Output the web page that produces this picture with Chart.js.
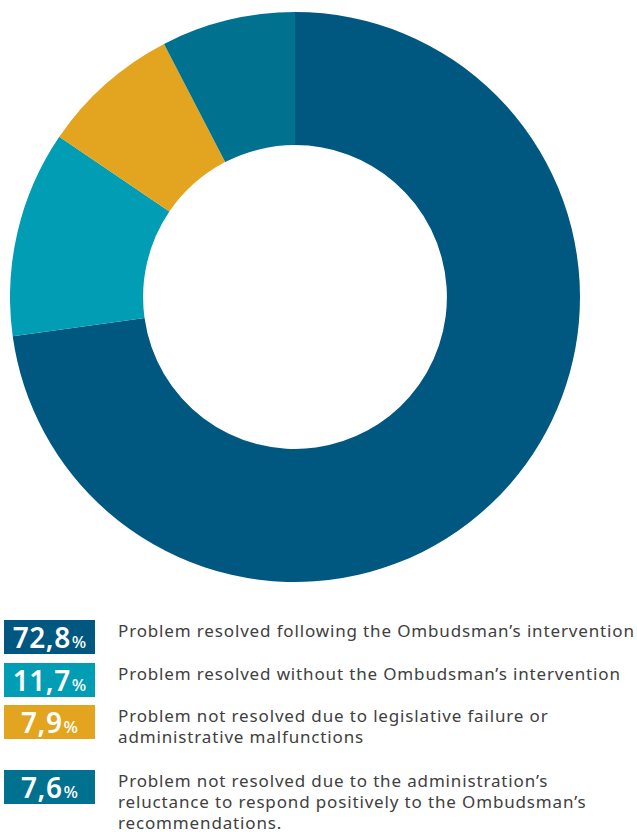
<!DOCTYPE html>
<html>
<head>
<meta charset="utf-8">
<script src="https://cdn.jsdelivr.net/npm/chart.js@4.4.1/dist/chart.umd.min.js"></script>
<style>
  html, body { margin: 0; padding: 0; background: #ffffff; }
  body { width: 637px; height: 832px; position: relative; overflow: hidden; font-family: "Noto Sans", sans-serif; }
  #chartBox { position: absolute; left: 10px; top: 12px; width: 570px; height: 570px; }
  .row { position: absolute; left: 4px; }
  .badge { position: absolute; left: 0; top: 0; width: 91px; height: 34px; color: #fff; overflow: hidden;
           text-align: center; line-height: 34px; white-space: nowrap;
           font-family: "Noto Sans", sans-serif; font-weight: 600; }
  .badge .num { font-size: 28px; letter-spacing: 0.5px; }
  .badge .pct { font-size: 17px; line-height: 1; font-weight: 500; margin-left: 1px; }
  .label { position: absolute; left: 114px; top: 0; width: 530px; font-size: 17px; line-height: 21px;
           color: #404040; letter-spacing: 0.85px; white-space: nowrap; }
</style>
</head>
<body>
<div id="chartBox"><canvas id="donut"></canvas></div>
<div id="legend"></div>
<script>
// Case outcomes (share of closed cases, %)
const categories = [
  "Problem resolved following the Ombudsman\u2019s intervention",
  "Problem resolved without the Ombudsman\u2019s intervention",
  "Problem not resolved due to legislative failure or\nadministrative malfunctions",
  "Problem not resolved due to the administration\u2019s\nreluctance to respond positively to the Ombudsman\u2019s\nrecommendations."
];
const shares = [72.8, 11.7, 7.9, 7.6];
const shareLabels = ["72,8", "11,7", "7,9", "7,6"];
const colors = ["#005880", "#009db5", "#e3a520", "#00718f"];
const legendTops = [620, 663, 705, 770];

new Chart(document.getElementById('donut'), {
  type: 'doughnut',
  data: {
    labels: categories,
    datasets: [{
      data: shares,
      backgroundColor: colors,
      borderWidth: 0,
      hoverOffset: 0
    }]
  },
  options: {
    responsive: true,
    maintainAspectRatio: false,
    animation: false,
    cutout: '53.3%',
    layout: { padding: 0 },
    plugins: { legend: { display: false }, tooltip: { enabled: false } }
  }
});

// Legend rows: coloured value badge followed by the description
const legend = document.getElementById('legend');
categories.forEach((text, i) => {
  const row = document.createElement('div');
  row.className = 'row';
  row.style.top = legendTops[i] + 'px';
  const badge = document.createElement('div');
  badge.className = 'badge';
  badge.style.background = colors[i];
  badge.innerHTML = '<span class="num">' + shareLabels[i] + '</span><span class="pct">%</span>';
  const label = document.createElement('div');
  label.className = 'label';
  label.innerHTML = text.split('\n').join('<br>');
  row.appendChild(badge);
  row.appendChild(label);
  legend.appendChild(row);
});
</script>
</body>
</html>
